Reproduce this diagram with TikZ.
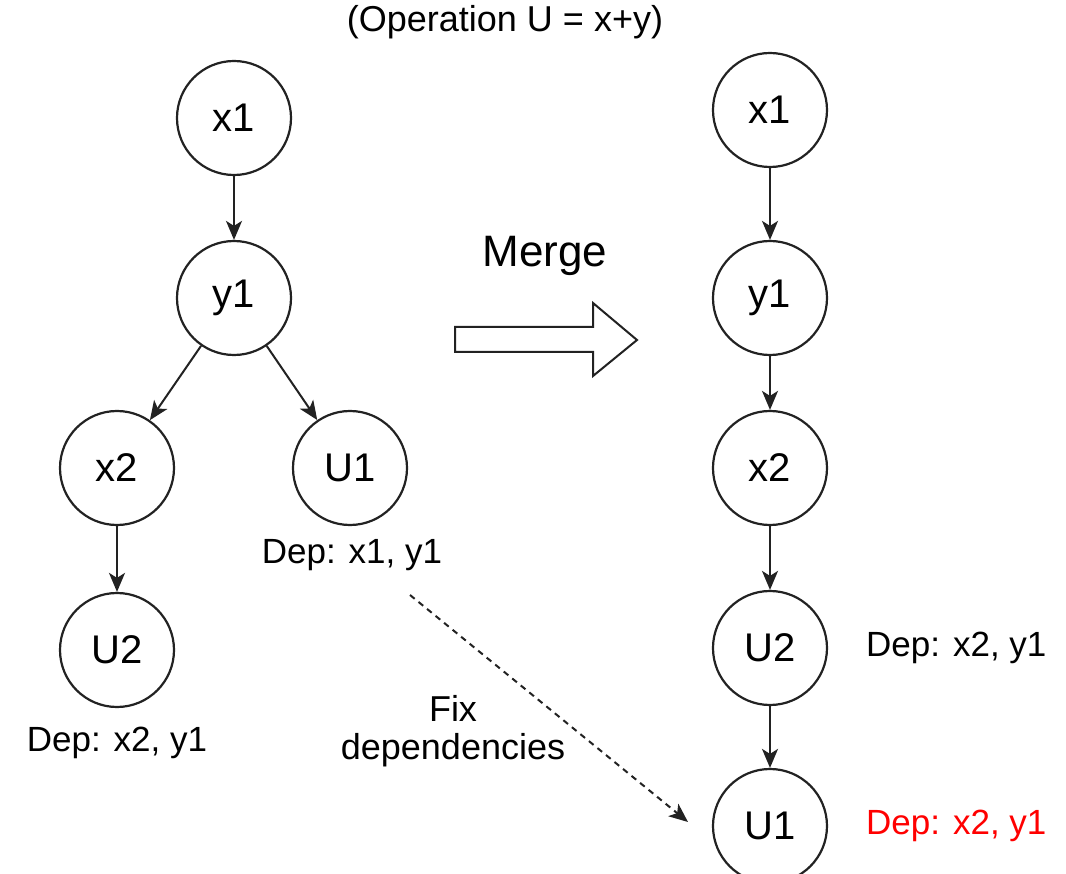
\documentclass[tikz,border=0pt]{standalone}
\usepackage{fontspec}
\setmainfont{Liberation Sans}
\usetikzlibrary{arrows.meta}
\definecolor{ink}{HTML}{222222}
\begin{document}
\begin{tikzpicture}[x=1pt,y=-1pt,
  vnode/.style={circle,draw=ink,line width=2.2pt,minimum size=114pt,inner sep=0pt,font=\fontsize{40}{46}\selectfont},
  dep/.style={font=\fontsize{35}{42}\selectfont,inner sep=0pt},
  conn/.style={draw=ink,line width=2pt,-{Stealth[length=19pt,width=16pt,inset=5pt]}},
  dashconn/.style={conn,dash pattern=on 6pt off 5pt}]
\useasboundingbox (0,0) rectangle (1066,874);
\node[font=\fontsize{36}{42}\selectfont,inner sep=0pt] (title) at (505,22) {(Operation U = x+y)};
% left graph
\node[vnode] (lx1) at (234,118) {x1};
\node[vnode] (ly1) at (234,298) {y1};
\node[vnode] (lx2) at (117,468) {x2};
\node[vnode] (lu1) at (350,468) {U1};
\node[vnode] (lu2) at (117,650) {U2};
\node[dep] (ldep1) at (352,555) {Dep: x1, y1};
\node[dep] (ldep2) at (117,743) {Dep: x2, y1};
\draw[conn] (lx1) -- (ly1);
\draw[conn] (ly1) -- (lx2);
\draw[conn] (ly1) -- (lu1);
\draw[conn] (lx2) -- (lu2);
% merge arrow
\node[font=\fontsize{44}{50}\selectfont,inner sep=0pt] (merge) at (545,256) {Merge};
\draw[draw=ink,line width=2pt,line join=miter] (455,327) -- (593,327) -- (593,303) -- (637,340) -- (593,376) -- (593,352) -- (455,352) -- cycle;
% right graph
\node[vnode] (rx1) at (770,110) {x1};
\node[vnode] (ry1) at (770,298) {y1};
\node[vnode] (rx2) at (770,468) {x2};
\node[vnode] (ru2) at (770,648) {U2};
\node[vnode] (ru1) at (770,826) {U1};
\node[dep,anchor=west] (rdep2) at (866,648) {Dep: x2, y1};
\node[dep,anchor=west,text=red] (rdep1) at (866,826) {Dep: x2, y1};
\draw[conn] (rx1) -- (ry1);
\draw[conn] (ry1) -- (rx2);
\draw[conn] (rx2) -- (ru2);
\draw[conn] (ru2) -- (ru1);
% fix dependencies
\coordinate (dstart) at (410,595);
\coordinate (dend) at (688,822);
\draw[dashconn] (dstart) -- (dend);
\node[font=\fontsize{36}{42}\selectfont,align=center,inner sep=0pt] (fix) at (453,731) {Fix\\[-4pt]dependencies};
\end{tikzpicture}
\end{document}
